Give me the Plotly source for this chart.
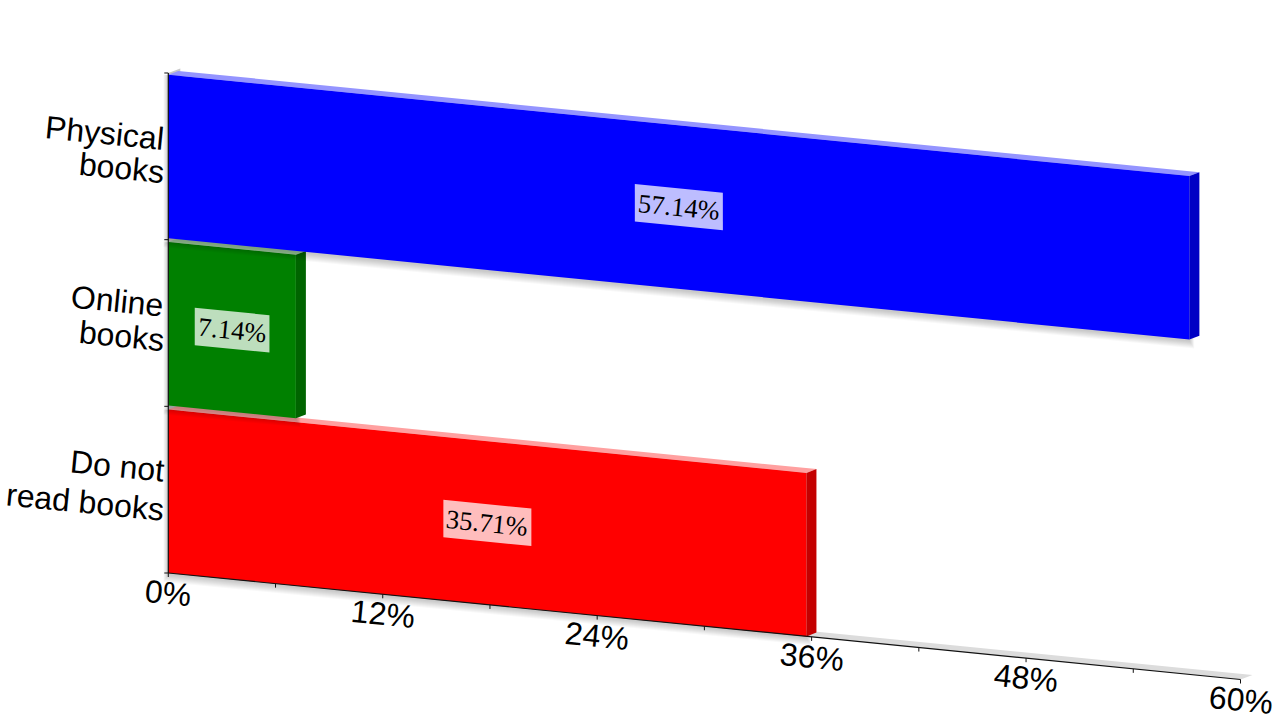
import plotly.graph_objects as go

# ---- data ----
categories = ["Physical books", "Online books", "Do not read books"]
category_lines = [["Physical", "books"], ["Online", "books"], ["Do not", "read books"]]
values = [57.14, 7.14, 35.71]
front_colors = ["#0000ff", "#008000", "#ff0000"]
top_colors = ["#9494ff", "#a0cfa0", "#ffa0a0"]
side_colors = ["#0000c4", "#006400", "#c40000"]
x_ticks = [0, 12, 24, 36, 48, 60]
x_minor = [6, 18, 30, 42, 54]
x_tick_labels = ["0%", "12%", "24%", "36%", "48%", "60%"]

# ---- oblique view settings (pixels) ----
W, H = 1280, 720
OX, OY = 168.3, 573.0        # where 0% meets the floor
SX = 17.87                   # px per percent along the axis
SLOPE = 1.775                # px of drop per percent
PITCH = 167.4                # px per category band on bars
BAR_H = 163.5
AX_PITCH = 166.67
DEPTH = (10, -3.8)
FLOOR = (12, -4.5)


def P(v, c=0.0, dx=0.0, dy=0.0):
    """value + band position + pixel offset -> axis coordinates (v in %, y in bands)."""
    return v + dx / SX, c - (SLOPE * v + dy) / PITCH


def poly(pts, color, name=None):
    xs = [p[0] for p in pts] + [pts[0][0]]
    ys = [p[1] for p in pts] + [pts[0][1]]
    return go.Scatter(x=xs, y=ys, mode="lines", fill="toself", fillcolor=color,
                      line=dict(width=0, color=color), hoverinfo="skip",
                      showlegend=False, name=name)


def seg(a, b, width=1.2, color="#111111"):
    return go.Scatter(x=[a[0], b[0]], y=[a[1], b[1]], mode="lines",
                      line=dict(width=width, color=color), hoverinfo="skip", showlegend=False)


fig = go.Figure()
h = BAR_H / PITCH
top_y = (OY - 73) / PITCH

# floor strip and back wall
vmax = x_ticks[-1]
fig.add_trace(poly([P(0), P(vmax), P(vmax, 0, *FLOOR), P(0, 0, *FLOOR)], "#dcdcdc"))
fig.add_trace(poly([P(0), P(0, 0, *FLOOR), P(0, top_y, *FLOOR), P(0, top_y)], "#c8c8c8"))

# bars: painted bottom band first so that the soft shadow of each falls on the one below
for i in [2, 1, 0]:
    v = values[i]
    c = 2 - i
    # soft shadow
    for k in range(8, 0, -1):
        fig.add_trace(poly([P(0, c + h, -k * 0.6, 0), P(v, c + h, k * 0.6, 0),
                            P(v, c, k * 0.6, k + 1), P(0, c, -k * 0.6, k + 1)],
                           "rgba(0,0,0,0.028)"))
    # top face
    fig.add_trace(poly([P(0, c + h), P(v, c + h), P(v, c + h, *DEPTH), P(0, c + h, *DEPTH)],
                       top_colors[i], name=categories[i]))
    # side face
    fig.add_trace(poly([P(v, c), P(v, c + h), P(v, c + h, *DEPTH), P(v, c, *DEPTH)],
                       side_colors[i], name=categories[i]))
    # front face
    fig.add_trace(poly([P(0, c), P(v, c), P(v, c + h), P(0, c + h)],
                       front_colors[i], name=categories[i]))

# data label plates, as wide as their text
LABEL_SIZE = 26.6
for i in range(3):
    v = values[i]
    c = 2 - i + h / 2
    digits = len(f"{v:.2f}") - 1
    text_em = 0.5 * digits + 0.25 + 0.833
    hw, hh = (text_em * LABEL_SIZE + 6) / 2, 18.7
    dv = hw / SX
    fig.add_trace(poly([P(v / 2 - dv, c, 0, -hh), P(v / 2 + dv, c, 0, -hh),
                        P(v / 2 + dv, c, 0, hh), P(v / 2 - dv, c, 0, hh)],
                       "rgba(255,255,255,0.74)"))

# axis lines and ticks
fig.add_trace(seg(P(0), P(vmax)))
fig.add_trace(seg(P(0), P(0, top_y)))
for t in x_ticks + x_minor:
    fig.add_trace(seg(P(t), P(t, 0, 0, 4), width=1))
for k in range(4):
    c = k * AX_PITCH / PITCH
    fig.add_trace(seg(P(0, c), P(0, c, -4, 0), width=1))

annotations = []
ANGLE = 5.67
# data labels
for i in range(3):
    v = values[i]
    x, y = P(v / 2, 2 - i + h / 2)
    annotations.append(dict(x=x, y=y, text=f"{v:.2f}%", showarrow=False, textangle=ANGLE,
                            xanchor="center", yanchor="middle",
                            font=dict(family="Liberation Serif", size=LABEL_SIZE, color="#000000")))
# value axis labels
for t, lab in zip(x_ticks, x_tick_labels):
    x, y = P(t, 0, 0, 20)
    annotations.append(dict(x=x, y=y, text=lab, showarrow=False, textangle=ANGLE,
                            xanchor="center", yanchor="middle",
                            font=dict(family="Liberation Sans", size=32, color="#000000")))
# category labels (two lines, each set on its own to hold the tight leading)
line_gap = 35.5
centres = [150.5, 318.5, 484.0]
for lines, cy in zip(category_lines, centres):
    for j, txt in enumerate(lines):
        py = cy + (j - 0.5) * line_gap
        annotations.append(dict(x=(167.3 - OX) / SX, y=(OY - py) / PITCH, text=txt, showarrow=False,
                                textangle=ANGLE, xanchor="right", yanchor="middle",
                                font=dict(family="Liberation Sans", size=32, color="#000000")))

fig.update_layout(
    width=W, height=H, autosize=False,
    margin=dict(l=0, r=0, t=0, b=0),
    paper_bgcolor="#ffffff", plot_bgcolor="#ffffff",
    showlegend=False, annotations=annotations,
    xaxis=dict(visible=False, range=[-OX / SX, (W - OX) / SX], fixedrange=True),
    yaxis=dict(visible=False, range=[(OY - H) / PITCH, OY / PITCH], fixedrange=True),
)
fig.write_html("out.html", config={"displayModeBar": False},
               post_script="document.body.style.margin='0';document.documentElement.style.overflow='hidden';")
